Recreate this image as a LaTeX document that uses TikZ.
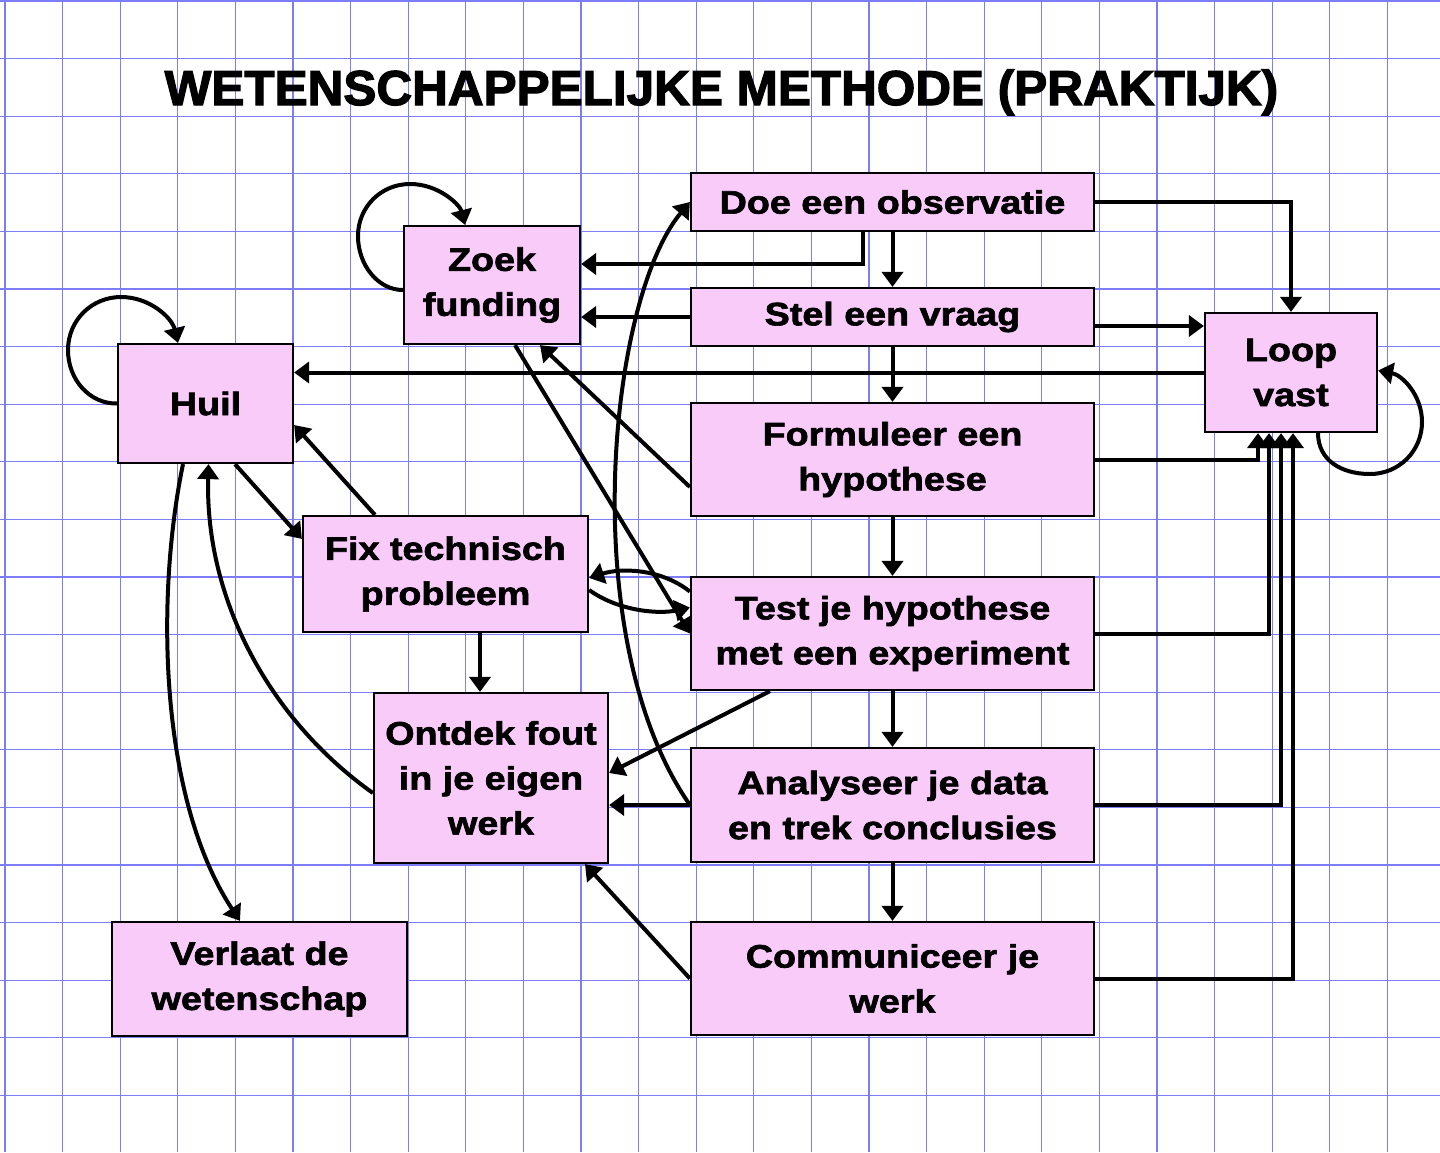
\documentclass[tikz,border=0pt]{standalone}
\usepackage{fontspec}
\newfontfamily\boxfont{Liberation Sans}[FakeStretch=1.16,BoldFeatures={FakeBold=2}]
\newfontfamily\titlefont{Liberation Sans}[FakeStretch=1.01,BoldFeatures={FakeBold=2.5}]
\usetikzlibrary{arrows.meta,calc}
\definecolor{boxpink}{RGB}{249,203,249}
\definecolor{gridblue}{RGB}{125,125,245}
\begin{document}
\begin{tikzpicture}[x=1pt,y=-1pt,
  box/.style={draw=black,line width=2.2pt,fill=boxpink,inner sep=0pt,align=center,
    font=\boxfont\bfseries\fontsize{32.5}{45}\selectfont},
  conn/.style={line width=4pt,-{Triangle[length=15pt,width=21pt]}},
  gridline/.style={gridblue,line width=1.2pt}
]
\useasboundingbox (0,0) rectangle (1440,1152);
\fill[white] (0,0) rectangle (1440,1152);
\foreach \i in {0,...,24} \draw[gridline] ({5+57.6*\i},0) -- ({5+57.6*\i},1152);
\foreach \j in {0,...,19} \draw[gridline] (0,{1+57.6*\j}) -- (1440,{1+57.6*\j});

\node[anchor=base,font=\titlefont\bfseries\fontsize{49}{55}\selectfont] (title) at (721.5,105) {WETENSCHAPPELIJKE METHODE (PRAKTIJK)};

\node[box,minimum width=403pt,minimum height=58pt] (obs) at (892.5,202) {Doe een observatie};
\node[box,minimum width=403pt,minimum height=58pt] (vraag) at (892.5,317) {Stel een vraag};
\node[box,minimum width=403pt,minimum height=113pt] (hyp) at (892.5,459.5) {Formuleer een\\hypothese};
\node[box,minimum width=403pt,minimum height=113pt] (test) at (892.5,633.5) {Test je hypothese\\met een experiment};
\node[box,minimum width=403pt,minimum height=114pt] (anal) at (892.5,805) {Analyseer je data\\en trek conclusies};
\node[box,minimum width=403pt,minimum height=113pt] (comm) at (892.5,978.5) {Communiceer je\\werk};
\node[box,minimum width=172pt,minimum height=119pt] (loop) at (1291,372.5) {Loop\\vast};
\node[box,minimum width=176pt,minimum height=118pt] (zoek) at (492,285) {Zoek\\funding};
\node[box,minimum width=175pt,minimum height=119pt] (huil) at (205.5,403.5) {Huil};
\node[box,minimum width=285pt,minimum height=116pt] (fix) at (445.5,574) {Fix technisch\\probleem};
\node[box,minimum width=234pt,minimum height=170pt] (ontdek) at (491,778) {Ontdek fout\\in je eigen\\werk};
\node[box,minimum width=295pt,minimum height=114pt] (verlaat) at (259.5,979) {Verlaat de\\wetenschap};

% main column
\draw[conn] (obs.south) -- (vraag.north);
\draw[conn] (vraag.south) -- (hyp.north);
\draw[conn] (hyp.south) -- (test.north);
\draw[conn] (test.south) -- (anal.north);
\draw[conn] (anal.south) -- (comm.north);

% to Loop vast
\draw[conn] (obs.east) -| (loop.north);
\draw[conn] ([yshift=-9pt]vraag.east) -- ([yshift=-9pt]vraag.east -| loop.west);
\draw[conn] (hyp.east) -| ([xshift=-33pt]loop.south);
\draw[conn] (test.east) -| ([xshift=-22pt]loop.south);
\draw[conn] (anal.east) -| ([xshift=-10pt]loop.south);
\draw[conn] (comm.east) -| ([xshift=2pt]loop.south);
\draw[conn] (loop.west) -- (loop.west -| huil.east);
\draw[conn] ([xshift=27pt]loop.south) .. controls (1318,460) and (1341,474) .. (1370,474)
  .. controls (1399,474) and (1422,451) .. (1422,422)
  .. controls (1422,395) and (1402,375) .. ([yshift=2pt]loop.east);

% Zoek funding
\draw[conn] ([xshift=-30pt]obs.south) |- ([yshift=21pt]zoek.east);
\draw[conn] (vraag.west) -- (vraag.west -| zoek.east);
\draw[conn] ([yshift=-27.5pt]hyp.west) -- ([xshift=48pt]zoek.south);
\draw[conn] ([xshift=23pt]zoek.south) -- (test.west);
\draw[conn] ([yshift=-5pt]zoek.west) .. controls (378,290) and (358,265) .. (358,236)
  .. controls (358,207) and (381,184) .. (410,184)
  .. controls (439,184) and (460,205) .. ([xshift=-27pt]zoek.north);

% long curve back to observation
\draw[conn] (anal.west) .. controls (575,640) and (608,300) .. (obs.west);

% Ontdek fout
\draw[conn] (anal.west) -- (anal.west -| ontdek.east);
\draw[conn] ([xshift=-122.5pt]test.south) -- ([yshift=5pt]ontdek.east);
\draw[conn] (comm.west) -- ([xshift=94pt]ontdek.south);
\draw[conn] ([xshift=34.5pt]fix.south) -- ([xshift=34.5pt]fix.south |- ontdek.north);

% Fix <-> Test
\draw[conn] ([yshift=42pt]test.west) .. controls (660,568) and (620,568) .. ([yshift=-4pt]fix.east);
\draw[conn] ([yshift=-16pt]fix.east) .. controls (620,612) and (660,614) .. ([yshift=26pt]test.west);

% Huil
\draw[conn] ([xshift=29.5pt]huil.south) -- ([yshift=-24pt]fix.north west);
\draw[conn] ([xshift=-70.5pt]fix.north) -- ([yshift=-21.5pt]huil.east);
\draw[conn] ([xshift=-22.5pt]huil.south) .. controls (155,600) and (160,800) .. ([xshift=-19.5pt]verlaat.north);
\draw[conn] ([yshift=-15pt]ontdek.west) .. controls (270,720) and (205,600) .. ([xshift=3pt]huil.south);
\draw[conn] (huil.west) .. controls (90,404) and (68,380) .. (68,350)
  .. controls (68,320) and (92,297) .. (121,297)
  .. controls (150,297) and (172,318) .. ([xshift=-27.5pt]huil.north);
\end{tikzpicture}
\end{document}
